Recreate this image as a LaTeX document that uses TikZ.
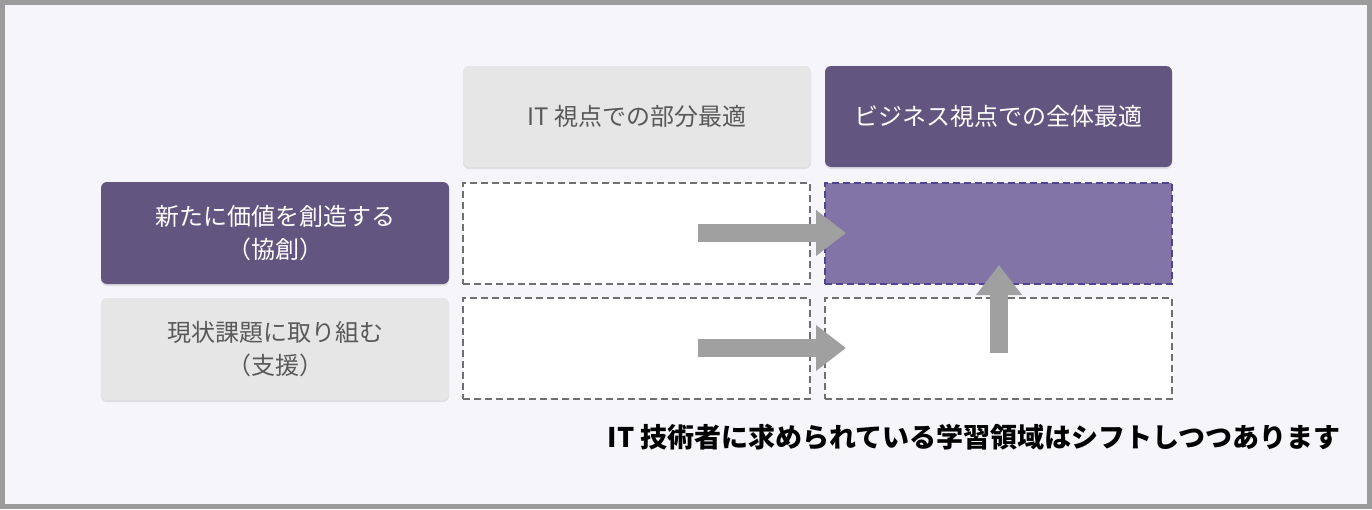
\documentclass[tikz,border=0pt]{standalone}
\usepackage{fontspec}
\newfontfamily\jpfont{Noto Sans CJK JP}
\usetikzlibrary{arrows.meta,shadows}
\definecolor{frameGray}{HTML}{9B9B9B}
\definecolor{bgLight}{HTML}{F5F5FA}
\definecolor{darkPurple}{HTML}{625680}
\definecolor{midPurple}{HTML}{8274A6}
\definecolor{edgePurple}{HTML}{4F4490}
\definecolor{boxGray}{HTML}{E6E6E6}
\definecolor{textGray}{HTML}{595959}
\definecolor{dashGray}{HTML}{707070}
\definecolor{arrowGray}{HTML}{A0A0A0}
\begin{document}
\begin{tikzpicture}[x=1pt,y=-1pt,
    headbox/.style={rounded corners=6pt, inner sep=0pt, align=center,
        drop shadow={shadow xshift=0pt, shadow yshift=-2pt, opacity=0.18},
        font=\jpfont\fontsize{24}{33}\selectfont},
    graybox/.style={headbox, fill=boxGray, text=textGray},
    purplebox/.style={headbox, fill=darkPurple, text=white},
    cellbox/.style={inner sep=0pt, line width=2pt, dash pattern=on 7pt off 4pt,
        minimum width=347pt, minimum height=101pt},
    bigarrow/.style={-{Triangle[length=30pt,width=44pt]}, line width=18pt, arrowGray}]
        % frame and background
        \fill[frameGray] (0,0) rectangle (1372,509);
        \fill[bgLight] (5,5) rectangle (1367,504);

        % column heads
        \node[graybox, minimum width=348pt, minimum height=101pt] (itHead) at (637,116.5) {IT 視点での部分最適};
        \node[purplebox, minimum width=347pt, minimum height=101pt] (bizHead) at (998.5,116.5) {ビジネス視点での全体最適};

        % row heads
        \node[purplebox, minimum width=348pt, minimum height=102pt] (coRow) at (275,233) {新たに価値を創造する\\（協創）};
        \node[graybox, minimum width=348pt, minimum height=102pt] (supRow) at (275,349) {現状課題に取り組む\\（支援）};

        % cells
        \node[cellbox, draw=dashGray, fill=white] (cellA) at (636.5,233) {};
        \node[cellbox, draw=edgePurple, fill=midPurple] (cellB) at (998.5,233) {};
        \node[cellbox, draw=dashGray, fill=white] (cellC) at (636.5,348.5) {};
        \node[cellbox, draw=dashGray, fill=white] (cellD) at (998.5,348.5) {};

        % arrows
        \coordinate (arrAs) at (698,233);
        \coordinate (arrAe) at (846,233);
        \coordinate (arrCs) at (698,348);
        \coordinate (arrCe) at (846,348);
        \coordinate (arrDs) at (999,353);
        \coordinate (arrDe) at (999,265);
        \draw[bigarrow] (arrAs) -- (arrAe);
        \draw[bigarrow] (arrCs) -- (arrCe);
        \draw[bigarrow] (arrDs) -- (arrDe);

        \node[font=\jpfont\bfseries\fontsize{27}{30}\selectfont, inner sep=0pt] (shiftNote) at (974,437.5) {IT 技術者に求められている学習領域はシフトしつつあります};
    \end{tikzpicture}
\end{document}
